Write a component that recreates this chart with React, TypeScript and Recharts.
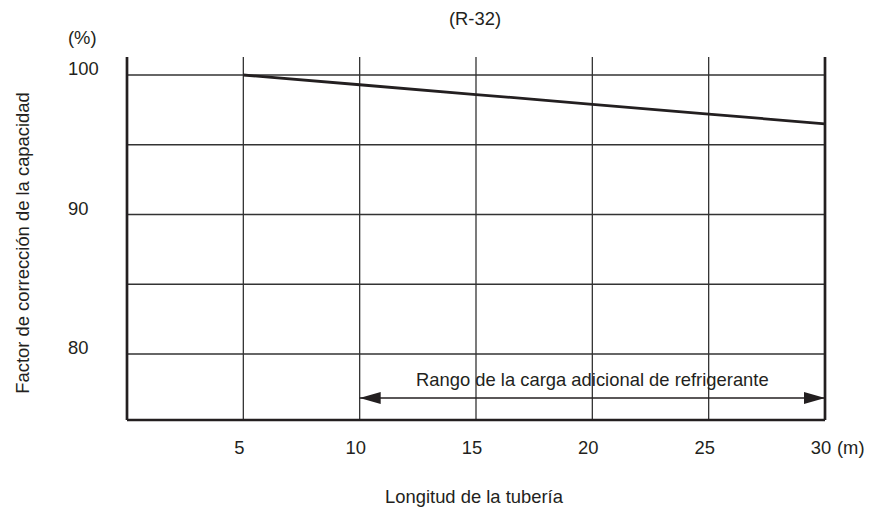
import React from 'react'
import { LineChart, Line, XAxis, YAxis, CartesianGrid, ReferenceLine, ReferenceDot } from 'recharts'

// pipe length (m) vs capacity correction factor (%)
const lengths = [5, 10, 15, 20, 25, 30]
const factor = [100, 99.3, 98.6, 97.9, 97.2, 96.5]

const xTicks = [5, 10, 15, 20, 25, 30]
const xGrid = [5, 10, 15, 20, 25]
const yTicks = [80, 85, 90, 95, 100]
const yLabels = [80, 90, 100]

const rangeFrom = 10
const rangeTo = 30
const rangeLevel = 76.85
const rangeText = 'Rango de la carga adicional de refrigerante'

const title = '(R-32)'
const xTitle = 'Longitud de la tubería'
const yTitle = 'Factor de corrección de la capacidad'
const yUnit = '(%)'
const xUnit = '(m)'

const data = lengths.map((x, i) => ({ x, v: factor[i] }))
const arrowData = [
  { x: rangeFrom, v: rangeLevel },
  { x: rangeTo, v: rangeLevel },
]

const ink = '#231f20'
const font = "'Liberation Sans', Arial, sans-serif"
const fs = 18.4

const YTick = (props: any) => {
  const { y, payload } = props
  if (!yLabels.includes(payload.value)) return <g />
  return (
    <text x={68} y={y} fill={ink} fontSize={fs} fontFamily={font} textAnchor="start">
      {payload.value}
    </text>
  )
}

const XTick = (props: any) => {
  const { x, payload } = props
  return (
    <g>
      <text x={x - 4} y={454} fill={ink} fontSize={fs} fontFamily={font} textAnchor="middle">
        {payload.value}
      </text>
      {payload.value === 30 && (
        <text x={x + 12} y={454} fill={ink} fontSize={fs} fontFamily={font} textAnchor="start">
          {xUnit}
        </text>
      )}
    </g>
  )
}

const ArrowHead = (props: any) => {
  const { cx, cy, index } = props
  const d = index === 0 ? 1 : -1
  const pts = `${cx},${cy} ${cx + d * 21},${cy - 6} ${cx + d * 21},${cy + 6}`
  return <polygon key={`ah-${index}`} points={pts} fill={ink} />
}

export default function App() {
  return (
    <div style={{ position: 'absolute', left: 0, top: 0, width: 869, height: 513, background: '#fff' }}>
      <LineChart width={869} height={513} data={data} margin={{ top: 57, right: 44, bottom: 63, left: 67 }}>
        <CartesianGrid
          stroke="#333"
          strokeWidth={1.3}
          horizontalValues={yTicks}
          verticalValues={xGrid}
        />
        <XAxis
          dataKey="x"
          type="number"
          domain={[0, 30]}
          ticks={xTicks}
          allowDataOverflow
          height={30}
          tickLine={false}
          axisLine={{ stroke: ink, strokeWidth: 2.7 }}
          tick={<XTick />}
        />
        <YAxis
          type="number"
          domain={[75.27, 101.29]}
          ticks={yTicks}
          allowDataOverflow
          width={60}
          tickLine={false}
          axisLine={{ stroke: ink, strokeWidth: 2.7 }}
          tick={<YTick />}
        />
        <ReferenceLine x={30} stroke={ink} strokeWidth={2.7} />
        <Line
          dataKey="v"
          type="linear"
          stroke={ink}
          strokeWidth={2.8}
          dot={false}
          isAnimationActive={false}
        />
        <Line
          data={arrowData}
          dataKey="v"
          type="linear"
          stroke={ink}
          strokeWidth={1.4}
          dot={<ArrowHead />}
          activeDot={false}
          isAnimationActive={false}
        />
        <ReferenceDot
          x={20}
          y={78.21}
          r={0}
          fill="none"
          stroke="none"
          label={{ value: rangeText, position: 'center', fill: ink, fontSize: fs, fontFamily: font }}
        />
        <text x={475} y={25} fill={ink} fontSize={fs} fontFamily={font} textAnchor="middle">
          {title}
        </text>
        <text x={68} y={43.5} fill={ink} fontSize={fs} fontFamily={font} textAnchor="start">
          {yUnit}
        </text>
        <text x={474} y={503} fill={ink} fontSize={fs} fontFamily={font} textAnchor="middle">
          {xTitle}
        </text>
        <text
          x={28.5}
          y={243}
          fill={ink}
          fontSize={fs}
          fontFamily={font}
          textAnchor="middle"
          transform="rotate(-90, 28.5, 243)"
        >
          {yTitle}
        </text>
      </LineChart>
    </div>
  )
}
